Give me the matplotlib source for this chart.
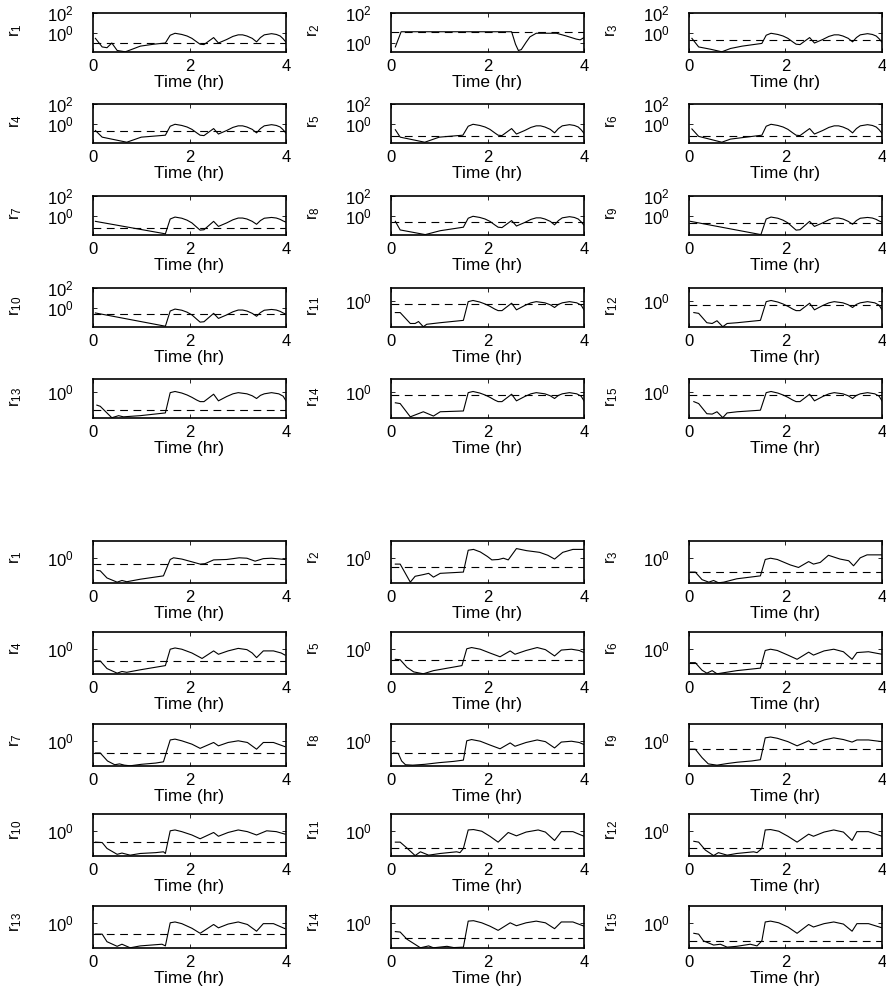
import numpy as np
import matplotlib.pyplot as plt
from matplotlib.ticker import NullLocator, LogFormatterMathtext

plt.rcParams['font.family'] = ['Liberation Sans', 'DejaVu Sans']
plt.rcParams['mathtext.fontset'] = 'custom'
plt.rcParams['mathtext.rm'] = 'Liberation Sans'
plt.rcParams['mathtext.default'] = 'regular'

# ---- upper block (values stored as log10 r) ----
tail_t_a = [1.6, 1.7, 1.84, 1.95, 2.05, 2.15, 2.22, 2.3, 2.5, 2.6, 2.77, 2.9, 3.01, 3.1,
            3.19, 3.3, 3.39, 3.47, 3.55, 3.7, 3.8, 3.88, 3.94, 4.0]
tail_a = [-0.28, -0.08, -0.2, -0.36, -0.6, -0.96, -1.2, -1.24, -0.52, -1.08, -0.72, -0.4, -0.24, -0.24,
          -0.36, -0.6, -0.96, -0.52, -0.24, -0.12, -0.2, -0.36, -0.64, -1.0]
tail_a2 = [-0.36, -0.16, -0.28, -0.48, -0.76, -1.2, -1.5, -1.46, -0.6, -1.12, -0.76, -0.44, -0.26, -0.26,
           -0.36, -0.6, -0.9, -0.52, -0.28, -0.2, -0.26, -0.4, -0.56, -0.68]
tail_t_b = [1.6, 1.7, 1.84, 1.95, 2.05, 2.15, 2.22, 2.3, 2.5, 2.6, 2.77, 2.9, 3.01, 3.19,
            3.3, 3.39, 3.47, 3.55, 3.7, 3.85, 3.94, 4.0]
tail_b = [-0.05, 0.04, -0.08, -0.23, -0.41, -0.62, -0.74, -0.74, -0.17, -0.68, -0.35, -0.14, -0.05, -0.14,
          -0.29, -0.5, -0.26, -0.14, -0.05, -0.14, -0.32, -0.68]

head_t_a = [
    [0.05, 0.19, 0.29, 0.39, 0.5, 0.67, 0.81, 0.98, 1.26, 1.5],
    [],
    [0.06, 0.2, 0.45, 0.68, 0.86, 1.1, 1.51],
    [0.05, 0.19, 0.7, 1.0, 1.5],
    [0.09, 0.19, 0.7, 1.0, 1.49],
    [0.06, 0.2, 0.68, 0.86, 1.51],
    [0.05, 1.5],
    [0.09, 0.19, 0.71, 1.02, 1.5],
    [0.03, 1.49],
    [0.05, 1.5],
    [0.09, 0.19, 0.4, 0.5, 0.57, 0.67, 0.74, 1.02, 1.5],
    [0.1, 0.2, 0.37, 0.48, 0.58, 0.7, 0.79, 1.0, 1.48],
    [0.08, 0.15, 0.39, 0.53, 0.63, 0.98, 1.5],
    [0.09, 0.19, 0.4, 0.67, 0.88, 1.02, 1.5],
    [0.1, 0.2, 0.37, 0.48, 0.58, 0.7, 0.79, 1.0, 1.48],
]
head_a = [
    [-0.6, -1.48, -1.56, -1.08, -1.84, -1.98, -1.72, -1.4, -1.2, -1.08],
    [],
    [-0.6, -1.48, -1.72, -1.98, -1.64, -1.4, -1.12],
    [-0.72, -1.4, -1.92, -1.4, -1.2],
    [-0.64, -1.4, -1.92, -1.4, -1.2],
    [-0.56, -1.32, -1.92, -1.6, -1.2],
    [-0.6, -1.88],
    [-0.6, -1.48, -1.96, -1.56, -1.2],
    [-0.6, -1.96],
    [-0.56, -1.92],
    [-0.89, -0.89, -1.73, -1.73, -1.58, -1.98, -1.79, -1.67, -1.49],
    [-0.89, -0.95, -1.67, -1.73, -1.52, -1.98, -1.73, -1.67, -1.49],
    [-1.01, -1.1, -1.98, -1.82, -1.91, -1.82, -1.61],
    [-0.83, -0.89, -1.91, -1.52, -1.85, -1.52, -1.46],
    [-0.74, -0.89, -1.67, -1.7, -1.52, -1.97, -1.61, -1.52, -1.4],
]
tail_kind_a = ['a', None, 'a', 'a', 'a', 'a', 'a2', 'a', 'a2', 'a2', 'b', 'b', 'b', 'b', 'b']

# r_2 of the upper block has its own shape
t_a_r2 = [0.09, 0.21, 2.5, 2.58, 2.64, 2.7, 2.8, 2.88, 3.01, 3.43, 3.63, 3.84, 3.92, 4.0]
lg_a_r2 = [-0.26, 0.75, 0.75, -0.08, -0.5, -0.44, 0.05, 0.41, 0.65, 0.65, 0.47, 0.26, 0.21, 0.36]

thr_a = [-1.04, 0.75, -0.72, -0.72, -1.24, -1.24, -1.28, -0.68, -0.76, -0.68,
         -0.26, -0.29, -1.4, -0.26, -0.23]
ylim_a = [(-2, 2)] * 10 + [(-2, 1)] * 5
ylim_a[1] = (-0.6, 2)
yticks_a = [[1, 100]] * 10 + [[1]] * 5

# ---- lower block ----
t_b = [
    [0.08, 0.15, 0.29, 0.5, 0.6, 0.7, 0.98, 1.46, 1.6, 1.67, 1.84, 2.0, 2.22, 2.32, 2.5, 2.77, 3.03, 3.19, 3.36, 3.53, 3.7, 3.98],
    [0.09, 0.19, 0.4, 0.5, 0.67, 0.78, 0.88, 1.02, 1.5, 1.6, 1.71, 1.85, 2.0, 2.09, 2.23, 2.33, 2.43, 2.6, 2.81, 3.08, 3.25, 3.39, 3.56, 3.77, 4.0],
    [0.03, 0.13, 0.27, 0.41, 0.51, 0.61, 0.72, 0.99, 1.48, 1.58, 1.69, 1.83, 2.1, 2.27, 2.48, 2.58, 2.72, 2.89, 3.13, 3.31, 3.41, 3.55, 3.69, 4.0],
    [0.05, 0.15, 0.29, 0.5, 0.6, 0.7, 0.98, 1.5, 1.6, 1.7, 1.84, 2.05, 2.26, 2.5, 2.6, 2.8, 3.01, 3.19, 3.3, 3.39, 3.53, 3.74, 3.9, 3.98],
    [0.09, 0.19, 0.33, 0.47, 0.67, 0.88, 1.47, 1.57, 1.67, 1.85, 2.05, 2.26, 2.47, 2.57, 2.8, 3.03, 3.2, 3.39, 3.53, 3.74, 3.9, 4.0],
    [0.03, 0.13, 0.27, 0.37, 0.48, 0.58, 0.99, 1.48, 1.58, 1.69, 1.83, 2.05, 2.24, 2.48, 2.58, 2.8, 3.0, 3.2, 3.38, 3.48, 3.72, 4.0],
    [0.05, 0.15, 0.3, 0.45, 0.55, 0.65, 0.77, 1.0, 1.3, 1.46, 1.6, 1.7, 1.84, 2.05, 2.22, 2.5, 2.6, 2.8, 3.01, 3.2, 3.39, 3.53, 3.74, 3.98],
    [0.05, 0.15, 0.22, 0.3, 0.45, 0.7, 1.0, 1.3, 1.5, 1.57, 1.67, 1.85, 2.05, 2.26, 2.47, 2.57, 2.8, 3.03, 3.2, 3.39, 3.53, 3.74, 3.9, 4.0],
    [0.03, 0.13, 0.27, 0.4, 0.58, 0.8, 1.0, 1.3, 1.48, 1.58, 1.69, 1.83, 2.05, 2.24, 2.48, 2.58, 2.8, 3.0, 3.2, 3.38, 3.48, 3.72, 4.0],
    [0.05, 0.19, 0.29, 0.5, 0.6, 0.77, 0.98, 1.3, 1.46, 1.5, 1.6, 1.7, 1.84, 2.05, 2.22, 2.5, 2.6, 2.8, 3.01, 3.2, 3.39, 3.6, 3.8, 3.98],
    [0.09, 0.19, 0.33, 0.5, 0.61, 0.78, 1.02, 1.36, 1.43, 1.5, 1.6, 1.71, 1.88, 2.05, 2.22, 2.43, 2.6, 2.8, 3.05, 3.2, 3.39, 3.53, 3.77, 4.0],
    [0.1, 0.2, 0.34, 0.51, 0.61, 0.79, 0.99, 1.34, 1.41, 1.51, 1.58, 1.69, 1.86, 2.05, 2.24, 2.48, 2.58, 2.8, 3.0, 3.2, 3.38, 3.48, 3.72, 4.0],
    [0.05, 0.19, 0.29, 0.5, 0.6, 0.77, 0.98, 1.43, 1.5, 1.6, 1.7, 1.84, 2.05, 2.22, 2.5, 2.6, 2.8, 3.01, 3.2, 3.39, 3.53, 3.74, 3.98],
    [0.09, 0.19, 0.33, 0.61, 0.78, 0.88, 1.16, 1.3, 1.5, 1.6, 1.71, 1.88, 2.05, 2.22, 2.47, 2.6, 2.8, 3.01, 3.2, 3.39, 3.53, 3.77, 4.0],
    [0.1, 0.2, 0.3, 0.51, 0.65, 0.79, 0.99, 1.27, 1.41, 1.51, 1.58, 1.69, 1.86, 2.05, 2.24, 2.48, 2.58, 2.8, 3.0, 3.2, 3.38, 3.48, 3.72, 4.0],
]
lg_b = [
    [-0.6, -0.62, -0.96, -1.16, -1.08, -1.14, -1.02, -0.86, -0.08, 0.0, -0.06, -0.16, -0.3, -0.28, -0.1, -0.08, 0.0, -0.02, -0.16, -0.04, -0.02, -0.08],
    [-0.3, -0.3, -1.16, -0.88, -0.8, -0.74, -0.92, -0.74, -0.68, 0.36, 0.4, 0.28, 0.06, -0.1, -0.08, -0.02, -0.1, 0.44, 0.34, 0.26, 0.12, -0.06, 0.26, 0.4, 0.4],
    [-0.68, -0.68, -1.04, -1.16, -1.08, -1.19, -1.16, -1.0, -0.86, -0.08, -0.02, -0.08, -0.34, -0.46, -0.18, -0.3, -0.22, 0.12, -0.06, -0.14, -0.38, 0.0, 0.14, 0.14],
    [-0.58, -0.58, -0.94, -1.16, -1.08, -1.12, -1.0, -0.8, -0.02, 0.04, -0.02, -0.2, -0.46, -0.1, -0.26, -0.1, 0.02, -0.04, -0.2, -0.42, -0.1, -0.1, -0.2, -0.3],
    [-0.5, -0.52, -0.88, -1.1, -1.19, -1.04, -0.8, 0.0, 0.06, -0.02, -0.2, -0.38, -0.1, -0.26, -0.08, 0.06, -0.04, -0.34, -0.06, -0.02, -0.08, -0.18],
    [-0.66, -0.66, -1.02, -1.16, -1.04, -1.19, -1.04, -0.92, -0.08, -0.02, -0.08, -0.3, -0.5, -0.16, -0.3, -0.1, -0.02, -0.14, -0.5, -0.18, -0.14, -0.26],
    [-0.58, -0.58, -0.96, -1.14, -1.1, -1.16, -1.19, -1.12, -1.06, -1.0, 0.04, 0.08, 0.0, -0.16, -0.36, -0.08, -0.24, -0.08, 0.0, -0.08, -0.4, -0.08, -0.08, -0.28],
    [-0.58, -0.6, -0.96, -1.14, -1.16, -1.12, -1.04, -0.98, -0.92, 0.0, 0.06, -0.02, -0.2, -0.38, -0.1, -0.26, -0.08, 0.04, -0.04, -0.34, -0.06, -0.02, -0.08, -0.18],
    [-0.4, -0.4, -0.8, -1.1, -1.16, -1.08, -1.02, -0.96, -0.9, 0.14, 0.18, 0.12, -0.04, -0.24, 0.0, -0.16, 0.04, 0.14, 0.06, -0.06, 0.04, 0.04, -0.04],
    [-0.54, -0.56, -0.84, -1.12, -1.06, -1.16, -1.08, -1.04, -1.0, -1.08, 0.0, 0.04, -0.04, -0.2, -0.38, -0.08, -0.26, -0.08, 0.04, -0.04, -0.2, 0.0, -0.04, -0.16],
    [-0.54, -0.54, -0.82, -1.18, -1.0, -1.16, -1.08, -1.0, -1.04, -0.84, 0.04, 0.06, -0.02, -0.26, -0.54, -0.08, -0.24, -0.06, 0.04, -0.06, -0.46, -0.04, -0.04, -0.26],
    [-0.5, -0.54, -0.92, -1.18, -1.04, -1.16, -1.08, -1.0, -1.04, -0.84, 0.04, 0.06, -0.02, -0.26, -0.54, -0.16, -0.26, -0.06, 0.04, -0.06, -0.46, -0.04, -0.04, -0.26],
    [-0.54, -0.54, -0.9, -1.12, -1.02, -1.19, -1.1, -1.02, -1.1, 0.0, 0.04, -0.04, -0.26, -0.5, -0.08, -0.24, -0.06, 0.04, -0.08, -0.4, -0.04, -0.04, -0.28],
    [-0.42, -0.44, -0.78, -1.19, -1.1, -1.19, -1.12, -1.18, -1.16, 0.08, 0.1, 0.0, -0.16, -0.36, 0.0, -0.14, 0.0, 0.08, 0.0, -0.28, 0.04, 0.04, -0.16],
    [-0.5, -0.54, -0.86, -1.06, -1.02, -1.16, -1.12, -1.02, -1.1, -0.86, 0.04, 0.08, 0.0, -0.2, -0.5, -0.08, -0.2, -0.04, 0.04, -0.06, -0.4, -0.04, -0.04, -0.24],
]
thr_b = [-0.3, -0.42, -0.68, -0.58, -0.52, -0.66, -0.58, -0.58, -0.4, -0.54,
         -0.84, -0.84, -0.54, -0.7, -0.86]
ylim_b = (-1.2, 0.8)

W, H = 887, 993
col_left = [93, 391, 689]
ax_w = 193
rows_top = [13, 104, 196, 288, 379]
rows_bot = [541, 632, 724, 814, 906]

fig = plt.figure(figsize=(W / 100, H / 100), dpi=100)


def panel(left, top, h, t, lg, thr, lim, ticks, idx, label_y):
    ax = fig.add_axes([left / W, 1 - (top + h) / H, ax_w / W, h / H])
    ax.set_yscale('log')
    ax.axhline(10 ** thr, color='k', lw=0.8, dashes=(7, 5))
    ax.plot(t, 10 ** np.array(lg), color='k', lw=0.8)
    ax.set_xlim(0, 4)
    ax.set_ylim(10 ** lim[0], 10 ** lim[1])
    ax.set_xticks([0, 2, 4])
    ax.set_yticks(ticks)
    ax.yaxis.set_major_formatter(LogFormatterMathtext())
    ax.yaxis.set_minor_locator(NullLocator())
    ax.tick_params(direction='in', top=True, right=True, length=3, width=0.6,
                   labelsize=12)
    ax.tick_params(axis='x', pad=5)
    ax.tick_params(axis='y', pad=14)
    for s in ax.spines.values():
        s.set_linewidth(1.2)
    ax.set_xlabel('Time (hr)', fontsize=12.5, labelpad=1)
    ax.set_ylabel(f'r$_{{{idx}}}$', fontsize=12)
    ax.yaxis.set_label_coords(-0.36, label_y)
    return ax


for i in range(15):
    r, c = divmod(i, 3)
    if i == 1:
        t, lg = t_a_r2, lg_a_r2
    else:
        kind = tail_kind_a[i]
        tt, tl = {'a': (tail_t_a, tail_a), 'a2': (tail_t_a, tail_a2),
                  'b': (tail_t_b, tail_b)}[kind]
        t = head_t_a[i] + tt
        lg = head_a[i] + tl
    panel(col_left[c], rows_top[r], 39, t, lg, thr_a[i], ylim_a[i], yticks_a[i], i + 1, 0.55)

for i in range(15):
    r, c = divmod(i, 3)
    panel(col_left[c], rows_bot[r], 42, t_b[i], lg_b[i], thr_b[i], ylim_b, [1], i + 1, 0.62)

fig.savefig('out.png', dpi=100)
